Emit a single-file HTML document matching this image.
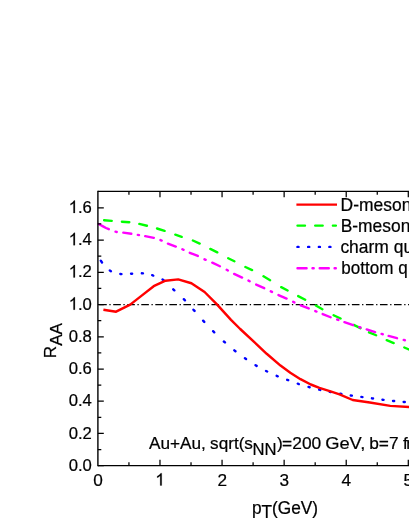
<!DOCTYPE html>
<html><head><meta charset="utf-8">
<style>
html,body{margin:0;padding:0;background:#fff;}
body{width:409px;height:529px;overflow:hidden;}
svg{display:block;will-change:transform;}
text{font-family:"Liberation Sans",sans-serif;fill:#000;stroke:#000;stroke-width:0.22px;}
</style></head><body>
<svg width="409" height="529" viewBox="0 0 409 529">
<rect width="409" height="529" fill="#fff"/>
<path d="M99.16 304.55H409" stroke="#000" stroke-width="1.2" stroke-dasharray="7.6 2.6 1.3 2.54" fill="none"/>
<g fill="none" stroke-linecap="round" stroke-linejoin="round" stroke-width="2.4">
<path d="M104.1 220.28 L111.7 220.92M121.9 221.76 L129.3 222.24M139.3 223.92 L146.9 225.78M157 228.48 L164.6 230.82M175.3 234.7 L181.7 236.8M192.9 240.51 L199.7 243.59M210.3 248.94 L217.3 252.36M228.2 258.24 L234.4 261.26M245.4 267.01 L252.1 270.09M263.5 276.32 L270.1 280.18M281.2 287.17 L287.6 290.53M298.2 296.07 L305.2 299.73M315.8 305.5 L322.4 309.2M333.6 315.22 L340.6 318.48M353.7 324.93 L360.4 328.17M369 332.36 L376.1 335.24M386.7 340.17 L393.7 343.03M404.3 347.49 L411.1 350.41" stroke="#00ff00"/>
<path d="M98.7 223.93 L100.5 225 L103 226.4 L106 228 L108.8 229.21M123.3 232.63 L131.3 233.77M145.2 236.17 L153.8 237.83M167.9 243.63 L175.8 246.57M189.8 252.76 L197.8 255.94M212.3 262.63 L219.9 266.27M234.1 273.91 L242.1 277.59M256.2 284.6 L264.2 288.2M278.5 295.09 L286.6 298.61M300.7 305.26 L308.7 308.44M322.7 314.06 L330.6 317.24M344.4 322.11 L353.1 325.09M366.7 329.47 L375.1 332.03M388.6 335.94 L397 338.16M115.5 231.68 L116.7 231.96M137.8 234.89 L139 235.1M160.5 240.08 L161.7 240.61M182.4 249.25 L183.6 249.79M204.5 259.29 L205.7 259.85M226.7 269.79 L227.9 270.45M248.5 280.61 L249.7 281.22M270.8 291.31 L272 291.9M293.2 301.8 L294.4 302.38M315.3 311.06 L316.5 311.54M337.2 319.5 L338.4 319.92M359.3 327.11 L360.5 327.49M381.6 333.93 L382.8 334.27M403.7 339.94 L404.9 340.26" stroke="#ff00ff"/>
<path d="M100.8 260.7 L102 262.5M109.85 270.49 L110.95 271.16M120.35 273.94 L121.45 274.08M131.05 273.72 L132.15 273.68M141.85 273.32 L142.95 273.41M152.15 275.19 L153.25 275.53M162.55 279.47 L163.65 280.22M173.25 289.28 L174.35 290.31M183.85 299.19 L184.95 300.31M193.45 309.69 L194.55 310.92M203.15 320.68 L204.25 321.88M213.15 331.22 L214.25 332.32M223.85 341.48 L224.95 342.46M234.35 350.34 L235.45 351.21M244.95 358.29 L246.05 359.06M255.55 365.24 L256.65 365.9M266.05 371 L267.15 371.55M276.65 375.85 L277.75 376.3M287.15 379.8 L288.25 380.2M297.75 383.7 L298.85 384.06M308.55 386.94 L309.65 387.24M319.15 389.66 L320.25 389.91M329.75 391.89 L330.85 392.1M340.25 393.8 L341.35 393.99M350.75 395.51 L351.85 395.67M361.35 396.93 L362.45 397.07M371.95 398.33 L373.05 398.47M382.45 399.73 L383.55 399.86M393.05 400.94 L394.15 401.05M403.65 401.95 L404.75 402.05" stroke="#0000ff"/>
<path d="M103.4 309.7 L116.1 311.7 L130.2 304.6 L142 295.4 L153.7 286.2 L165.5 280.7 L178.2 279.4 L191.4 283.2 L204.6 292 L216.7 304.2 L231 319.8 L240.2 329 L253.8 341.6 L266.7 353.8 L280.5 365.6 L290.3 372.8 L300.5 379.2 L310.8 384.5 L319.4 387.9 L331.3 391.7 L339.5 394.3 L352.7 400 L369.8 402.5 L390.3 405.9 L409.5 407.1" stroke="#ff0000" stroke-width="2.45" stroke-linecap="butt"/>
</g>
<path d="M97.9 190.65 V466.35" stroke="#000" stroke-width="1.4" fill="none"/>
<path d="M97.9 465.7H409M97.9 191.3H409" stroke="#000" stroke-width="1.3" fill="none"/>
<g stroke="#000" stroke-width="1.25" fill="none">
<path d="M97.9 465.7h5.9M97.9 433.47h5.9M97.9 401.24h5.9M97.9 369.01h5.9M97.9 336.78h5.9M97.9 304.55h5.9M97.9 272.32h5.9M97.9 240.09h5.9M97.9 207.86h5.9"/>
<path d="M97.9 449.58h3.4M97.9 417.35h3.4M97.9 385.12h3.4M97.9 352.89h3.4M97.9 320.66h3.4M97.9 288.43h3.4M97.9 256.2h3.4M97.9 223.97h3.4"/>
<path d="M159.98 465.7v-5.9M159.98 191.3v5.9M222.06 465.7v-5.9M222.06 191.3v5.9M284.14 465.7v-5.9M284.14 191.3v5.9M346.22 465.7v-5.9M346.22 191.3v5.9M408.3 465.7v-5.9M408.3 191.3v5.9"/>
<path d="M128.94 465.7v-3.4M128.94 191.3v3.4M191.02 465.7v-3.4M191.02 191.3v3.4M253.1 465.7v-3.4M253.1 191.3v3.4M315.18 465.7v-3.4M315.18 191.3v3.4M377.26 465.7v-3.4M377.26 191.3v3.4"/>
</g>
<g fill="none" stroke-linecap="round" stroke-width="2.4">
<path d="M296.4 204.6H337" stroke="#ff0000" stroke-linecap="butt"/>
<path d="M297.5 225.6H305M315.2 225.6H322.7M332.9 225.6H335.9" stroke="#00ff00"/>
<path d="M297.45 246.9H298.55M308.15 246.9H309.25M318.85 246.9H319.95M329.35 246.9H330.45" stroke="#0000ff"/>
<path d="M297.5 268.3H306.6M312.5 268.3H313.7M319.7 268.3H328.8M334.6 268.3H335.8" stroke="#ff00ff"/>
</g>
<g font-size="17.6">
<text transform="translate(340.6 210.5) scale(0.992 1)">D-meson</text>
<text transform="translate(340.7 231.6) scale(0.9895 1)">B-meson</text>
<text transform="translate(340.4 252.6) scale(0.992 1)">charm quark</text>
<text transform="translate(341.3 274) scale(0.97 1)">bottom q</text>
</g>
<g font-size="17.2" text-anchor="end">
<text transform="translate(91.9 470.8) scale(0.97 1)">0.0</text>
<text transform="translate(91.9 438.57) scale(0.97 1)">0.2</text>
<text transform="translate(91.9 406.34) scale(0.97 1)">0.4</text>
<text transform="translate(91.9 374.11) scale(0.97 1)">0.6</text>
<text transform="translate(91.9 341.88) scale(0.97 1)">0.8</text>
<text transform="translate(91.9 309.65) scale(0.97 1)">.0</text>
<path d="M763 0H583V1147Q518 1085 412.5 1023T223 930V1104Q374 1175 487 1276T647 1472H763Z" transform="translate(68.71 309.65) scale(0.00815 -0.00840)" fill="#000" stroke="#000" stroke-width="26"/>
<text transform="translate(91.9 277.42) scale(0.97 1)">.2</text>
<path d="M763 0H583V1147Q518 1085 412.5 1023T223 930V1104Q374 1175 487 1276T647 1472H763Z" transform="translate(68.71 277.42) scale(0.00815 -0.00840)" fill="#000" stroke="#000" stroke-width="26"/>
<text transform="translate(91.9 245.19) scale(0.97 1)">.4</text>
<path d="M763 0H583V1147Q518 1085 412.5 1023T223 930V1104Q374 1175 487 1276T647 1472H763Z" transform="translate(68.71 245.19) scale(0.00815 -0.00840)" fill="#000" stroke="#000" stroke-width="26"/>
<text transform="translate(91.9 212.96) scale(0.97 1)">.6</text>
<path d="M763 0H583V1147Q518 1085 412.5 1023T223 930V1104Q374 1175 487 1276T647 1472H763Z" transform="translate(68.71 212.96) scale(0.00815 -0.00840)" fill="#000" stroke="#000" stroke-width="26"/>
</g>
<g font-size="17.2" text-anchor="middle">
<text x="98" y="485.5">0</text>
<path d="M763 0H583V1147Q518 1085 412.5 1023T223 930V1104Q374 1175 487 1276T647 1472H763Z" transform="translate(155.3 485.5) scale(0.00840 -0.00840)" fill="#000" stroke="#000" stroke-width="26"/>
<text x="222.16" y="485.5">2</text>
<text x="284.24" y="485.5">3</text>
<text x="346.32" y="485.5">4</text>
<text x="408.4" y="485.5">5</text>
</g>
<text transform="translate(251.9 514) scale(0.96 1)" font-size="18">p<tspan dy="4.3">T</tspan><tspan dy="-4.3">(GeV)</tspan></text>
<text transform="translate(56.1 358.2) rotate(-90)" font-size="17.1">R<tspan dy="5.5">AA</tspan></text>
<g font-size="17.2">
<text transform="translate(149 449.2) scale(1.0012 1)">Au+Au,</text>
<text transform="translate(210.1 449.2) scale(0.9963 1)">sqrt(s</text>
<text transform="translate(252.4 454.9) scale(0.985 1)" font-size="16.9">NN</text>
<text transform="translate(276.9 449.2) scale(1.0109 1)">)</text>
<text transform="translate(282.09 449.2) scale(1.0109 1)">=200</text>
<text transform="translate(325.2 449.2) scale(1.0647 1)">GeV,</text>
<text transform="translate(369.2 449.2) scale(1.0060 1)">b=7</text>
<text transform="translate(403.1 449.2) scale(0.9767 1)">f</text>
<text transform="translate(406.3 449.2) scale(0.9767 1)">m</text>
</g>
</svg>
</body></html>
